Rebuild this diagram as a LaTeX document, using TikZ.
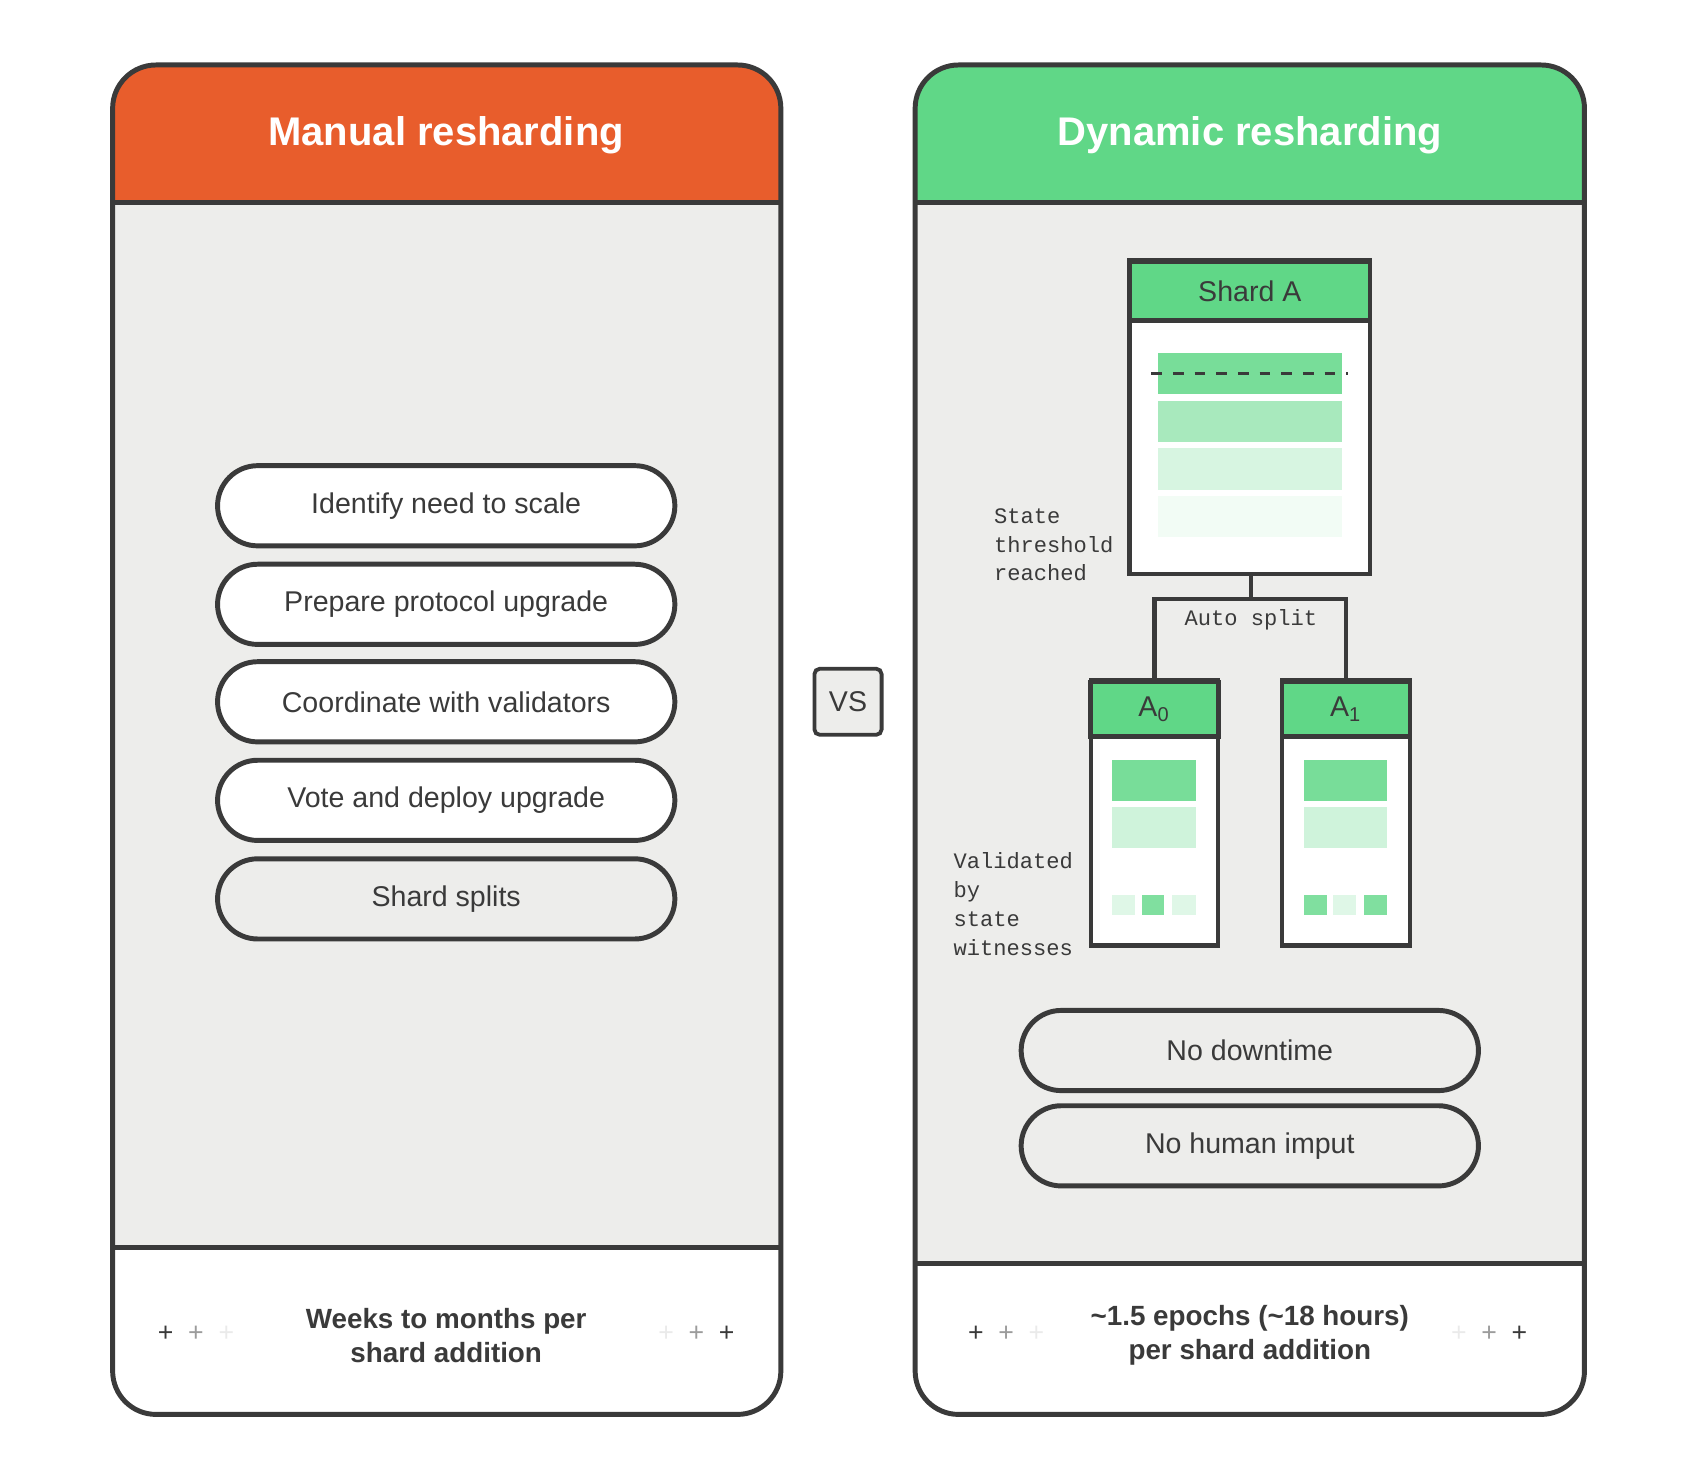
\documentclass[tikz,border=0pt]{standalone}
\usepackage{fontspec}
\setmainfont{Liberation Sans}
\newfontfamily\monofont{Liberation Mono}
\usepackage{tikz}
\usetikzlibrary{positioning,calc}

\definecolor{ink}{HTML}{3A3A3A}
\definecolor{panelgray}{HTML}{EDEDEB}
\definecolor{manualorange}{HTML}{E85D2C}
\definecolor{dyngreen}{HTML}{60D787}

\tikzset{
  pill/.style={draw=ink,line width=1.3pt,rounded corners=0.37cm,minimum width=4.22cm,minimum height=0.74cm,font=\fontsize{7.5}{9}\selectfont,text=ink},
  title/.style={text=white,font=\bfseries\fontsize{10.5}{12}\selectfont},
  footnote/.style={text=ink,font=\bfseries\fontsize{7.3}{8.8}\selectfont,align=center},
  mono/.style={text=ink,font=\monofont\fontsize{5.8}{7.6}\selectfont,align=left},
  shardhead/.style={fill=dyngreen,draw=ink,line width=1.1pt,text=ink,font=\fontsize{7.5}{9}\selectfont},
  sparkle/.style={text=ink,font=\fontsize{7}{8}\selectfont}
}

\begin{document}
\begin{tikzpicture}[x=0.01cm,y=-0.01cm]
\useasboundingbox (0,0) rectangle (1566,1364);

% Manual panel
\begin{scope}
\clip[rounded corners=0.4cm] (104,60) rectangle (721,1306);
\fill[white] (104,60) rectangle (721,1306);
\fill[manualorange] (104,60) rectangle (721,187);
\fill[panelgray] (104,187) rectangle (721,1152);
\end{scope}
\draw[ink,line width=1.3pt] (104,187) -- (721,187);
\draw[ink,line width=1.3pt] (104,1152) -- (721,1152);
\draw[ink,line width=1.3pt,rounded corners=0.4cm] (104,60) rectangle (721,1306);
\node[title] (mtitle) at (412,125) {Manual resharding};

\node[pill,fill=white] (identify) at (412,467) {Identify need to scale};
\node[pill,fill=white] (prepare) at (412,558) {Prepare protocol upgrade};
\node[pill,fill=white] (coord) at (412,648) {Coordinate with validators};
\node[pill,fill=white] (vote) at (412,739) {Vote and deploy upgrade};
\node[pill,fill=panelgray] (splits) at (412,830) {Shard splits};

\node[footnote] (mfoot) at (412,1233) {Weeks to months per\\shard addition};
\node[sparkle] at (153,1232) {+};
\node[sparkle,opacity=0.5] at (181,1232) {+};
\node[sparkle,opacity=0.1] at (209,1232) {+};
\node[sparkle,opacity=0.1] at (615,1232) {+};
\node[sparkle,opacity=0.5] at (643,1232) {+};
\node[sparkle] at (671,1232) {+};

% VS
\node[draw=ink,fill=panelgray,line width=1pt,rounded corners=0.05cm,minimum width=0.62cm,minimum height=0.61cm,text=ink,font=\fontsize{7.5}{9}\selectfont] (vs) at (783,648) {VS};

% Dynamic panel
\begin{scope}
\clip[rounded corners=0.4cm] (845,60) rectangle (1463,1306);
\fill[white] (845,60) rectangle (1463,1306);
\fill[dyngreen] (845,60) rectangle (1463,187);
\fill[panelgray] (845,187) rectangle (1463,1167);
\end{scope}
\draw[ink,line width=1.3pt] (845,187) -- (1463,187);
\draw[ink,line width=1.3pt] (845,1167) -- (1463,1167);
\draw[ink,line width=1.3pt,rounded corners=0.4cm] (845,60) rectangle (1463,1306);
\node[title] (dtitle) at (1154,125) {Dynamic resharding};

% Shard A
\draw[ink,line width=1.1pt,fill=white] (1043,240) rectangle (1265,530);
\node[shardhead,minimum width=2.22cm,minimum height=0.54cm,anchor=north] (sharda) at (1154,240) {Shard A};
\fill[dyngreen!85] (1069,326) rectangle (1239,364);
\fill[dyngreen!55] (1069,370) rectangle (1239,408);
\fill[dyngreen!25] (1069,414) rectangle (1239,452);
\fill[dyngreen!8] (1069,458) rectangle (1239,496);
\draw[ink,line width=0.8pt,dash pattern=on 0.1cm off 0.1cm] (1063,345) -- (1245,345);
\coordinate (abottom) at (1155,530);
\node[mono] (threshold) at (973,503) {State\\threshold\\reached};

% children
\foreach \nm/\lbl/\cx/\pa/\pb/\pc in {azero/A\textsubscript{0}/1066/20/80/20, aone/A\textsubscript{1}/1243/80/20/80} {
  \draw[ink,line width=1.1pt,fill=white] (\cx-59,628) rectangle (\cx+59,873);
  \node[shardhead,minimum width=1.18cm,minimum height=0.5cm,anchor=north] (\nm) at (\cx,628) {\lbl};
  \fill[dyngreen!85] (\cx-39,702) rectangle (\cx+38,740);
  \fill[dyngreen!30] (\cx-39,745) rectangle (\cx+38,783);
  \fill[dyngreen!\pa] (\cx-39,826) rectangle (\cx-18,845);
  \fill[dyngreen!\pb] (\cx-12,826) rectangle (\cx+9,845);
  \fill[dyngreen!\pc] (\cx+16,826) rectangle (\cx+38,845);
}
\draw[ink,line width=1.1pt] (abottom) -- ++(0,23) -| (azero.north);
\draw[ink,line width=1.1pt] (abottom) ++(0,23) -| (aone.north);
\node[mono] (autosplit) at (1155,572) {Auto split};
\node[mono,anchor=west] (validated) at (868,835) {Validated\\by\\state\\witnesses};

\node[pill,fill=panelgray] (downtime) at (1154,970) {No downtime};
\node[pill,fill=panelgray] (human) at (1154,1058) {No human imput};

\node[footnote] (dfoot) at (1154,1233) {\textasciitilde1.5 epochs (\textasciitilde18 hours)\\per shard addition};
\node[sparkle] at (901,1232) {+};
\node[sparkle,opacity=0.5] at (929,1232) {+};
\node[sparkle,opacity=0.1] at (957,1232) {+};
\node[sparkle,opacity=0.1] at (1347,1232) {+};
\node[sparkle,opacity=0.5] at (1375,1232) {+};
\node[sparkle] at (1403,1232) {+};
\end{tikzpicture}
\end{document}
